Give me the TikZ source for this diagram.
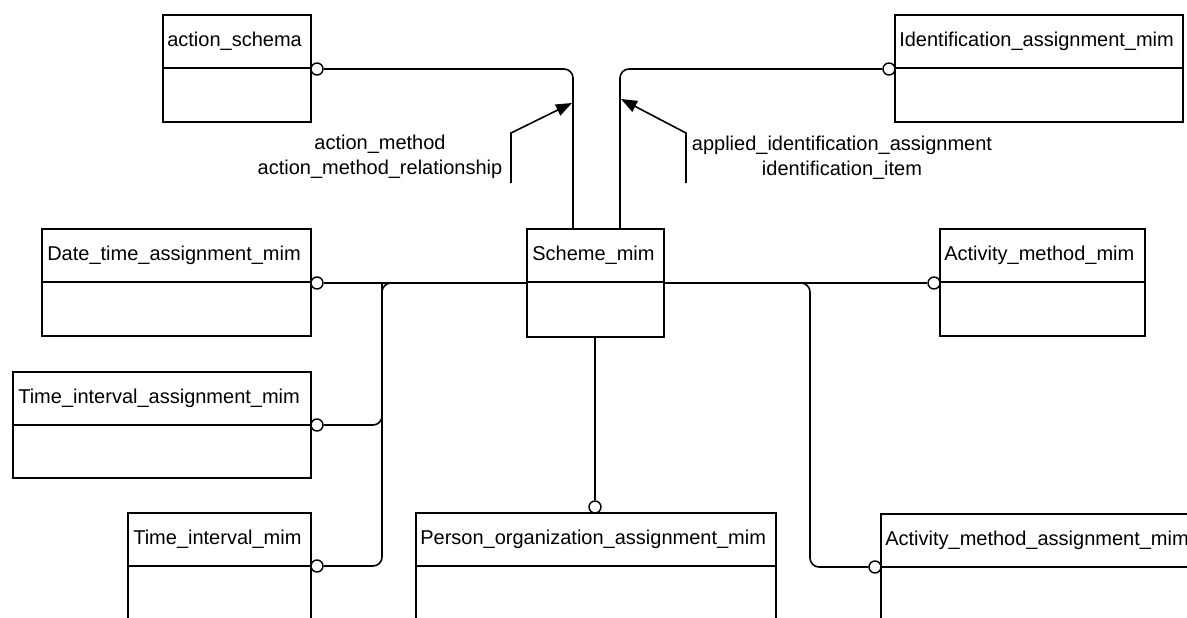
\documentclass[tikz,border=0pt]{standalone}
\usepackage{fontspec}
\setmainfont{Liberation Sans}
\usetikzlibrary{arrows.meta}
\begin{document}
\begin{tikzpicture}[x=1pt,y=-1pt,
  box/.style={draw, line width=1.8pt, rectangle, inner sep=0pt},
  ttl/.style={anchor=west, inner sep=0pt, font=\fontsize{20}{24}\selectfont},
  lbl/.style={inner sep=0pt, align=center, font=\fontsize{20}{25}\selectfont},
  circ/.style={draw, circle, fill=white, line width=1.4pt, minimum size=12pt, inner sep=0pt},
  conn/.style={line width=1.6pt, rounded corners=9pt},
  arr/.style={line width=1.6pt, -{Triangle[length=16pt,width=12pt]}}]
\clip (0,0) rectangle (1187,618);
\fill[white] (0,0) rectangle (1187,618);
% boxes
\node[box, minimum width=148pt, minimum height=107pt] (as) at (237,68.5) {};
\node[box, minimum width=288pt, minimum height=107pt] (id) at (1039,68.5) {};
\node[box, minimum width=269pt, minimum height=107pt] (dt) at (176.5,282.5) {};
\node[box, minimum width=298pt, minimum height=106pt] (tia) at (162,425) {};
\node[box, minimum width=183pt, minimum height=140pt] (ti) at (219.5,583) {};
\node[box, minimum width=360pt, minimum height=140pt] (po) at (596,583) {};
\node[box, minimum width=330pt, minimum height=140pt] (ama) at (1046,584) {};
\node[box, minimum width=137pt, minimum height=108pt] (sc) at (595.5,283) {};
\node[box, minimum width=205pt, minimum height=107pt] (am) at (1042.5,282.5) {};
% dividers
\foreach \b in {as,id,dt,tia,ti,po,ama,sc,am}{
  \draw[line width=1.8pt] ([yshift=-54pt]\b.north west) -- ([yshift=-54pt]\b.north east);
}
% titles
\node[ttl] at ([xshift=5pt,yshift=-27pt]as.north west) {action\_schema};
\node[ttl] at ([xshift=5pt,yshift=-27pt]id.north west) {Identification\_assignment\_mim};
\node[ttl] at ([xshift=6pt,yshift=-27pt]dt.north west) {Date\_time\_assignment\_mim};
\node[ttl] at ([xshift=6pt,yshift=-27pt]tia.north west) {Time\_interval\_assignment\_mim};
\node[ttl] at ([xshift=6pt,yshift=-27pt]ti.north west) {Time\_interval\_mim};
\node[ttl] at ([xshift=5pt,yshift=-27pt]po.north west) {Person\_organization\_assignment\_mim};
\node[ttl] at ([xshift=5pt,yshift=-27pt]ama.north west) {Activity\_method\_assignment\_mim};
\node[ttl] at ([xshift=6pt,yshift=-27pt]sc.north west) {Scheme\_mim};
\node[ttl] at ([xshift=5pt,yshift=-27pt]am.north west) {Activity\_method\_mim};
% circles
\node[circ] (cas) at (317,69) {};
\node[circ] (cid) at (889,69) {};
\node[circ] (cdt) at (317,283) {};
\node[circ] (ctia) at (317,425) {};
\node[circ] (cti) at (317,566) {};
\node[circ] (cpo) at (595,507) {};
\node[circ] (cam) at (934,283) {};
\node[circ] (cama) at (875,567) {};
% connectors
\draw[conn] (cas.east) -| ([xshift=-22.5pt]sc.north);
\draw[conn] ([xshift=24.5pt]sc.north) |- (cid.west);
\draw[conn] (cdt.east) -- (sc.west);
\draw[conn] (sc.east) -- (cam.west);
\coordinate (jv) at (382,283);
\coordinate (jr) at (430,283);
\draw[conn] (cti.east) -| (jv) -- (jr);
\draw[conn] (ctia.east) -| (jv);
\draw[conn] (sc.south -| cpo) -- (cpo.north);
\coordinate (kv) at (810,283);
\draw[conn] (sc.east) -- (kv) |- (cama.west);
% arrows
\coordinate (a1s) at (511,183);
\coordinate (a1m) at (511,133);
\coordinate (a1t) at (572,103);
\draw[arr] (a1s) -- (a1m) -- (a1t);
\coordinate (a2s) at (686,183);
\coordinate (a2m) at (686,133);
\coordinate (a2t) at (621,99);
\draw[arr] (a2s) -- (a2m) -- (a2t);
% labels
\node[lbl] (l1) at (380,157) {action\_method\\action\_method\_relationship};
\node[lbl] (l2) at (842,158) {applied\_identification\_assignment\\identification\_item};
\end{tikzpicture}
\end{document}
